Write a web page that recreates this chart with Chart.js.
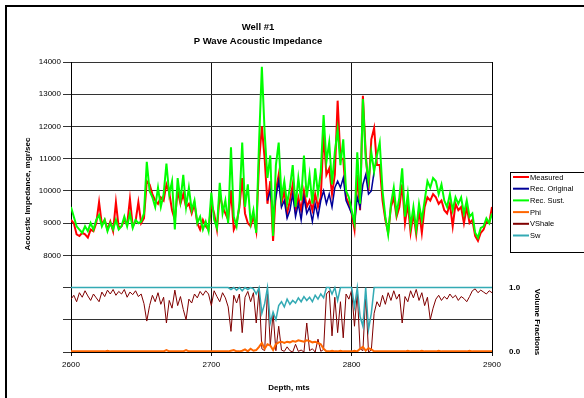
<!DOCTYPE html>
<html>
<head>
<meta charset="utf-8">
<script src="https://cdn.jsdelivr.net/npm/chart.js@4.4.0/dist/chart.umd.min.js"></script>
<style>
  html, body { margin: 0; padding: 0; background: #fff; }
</style>
</head>
<body>
<canvas id="myChart" width="584" height="398"></canvas>
<script>
// depth samples, metres
const depth = [
  2600, 2602, 2604, 2606, 2608, 2610, 2612, 2614, 2616, 2618,
  2620, 2622, 2624, 2626, 2628, 2630, 2632, 2634, 2636, 2638,
  2640, 2642, 2644, 2646, 2648, 2650, 2652, 2654, 2656, 2658,
  2660, 2662, 2664, 2666, 2668, 2670, 2672, 2674, 2676, 2678,
  2680, 2682, 2684, 2686, 2688, 2690, 2692, 2694, 2696, 2698,
  2700, 2702, 2704, 2706, 2708, 2710, 2712, 2714, 2716, 2718,
  2720, 2722, 2724, 2726, 2728, 2730, 2732, 2734, 2736, 2738,
  2740, 2742, 2744, 2746, 2748, 2750, 2752, 2754, 2756, 2758,
  2760, 2762, 2764, 2766, 2768, 2770, 2772, 2774, 2776, 2778,
  2780, 2782, 2784, 2786, 2788, 2790, 2792, 2794, 2796, 2798,
  2800, 2802, 2804, 2806, 2808, 2810, 2812, 2814, 2816, 2818,
  2820, 2822, 2824, 2826, 2828, 2830, 2832, 2834, 2836, 2838,
  2840, 2842, 2844, 2846, 2848, 2850, 2852, 2854, 2856, 2858,
  2860, 2862, 2864, 2866, 2868, 2870, 2872, 2874, 2876, 2878,
  2880, 2882, 2884, 2886, 2888, 2890, 2892, 2894, 2896, 2898,
  2900
];

// acoustic impedance, mgr/sec
const measured = [
  9100, 9000, 8650, 8600, 8700, 8650, 8550, 8800, 8750, 9000,
  9650, 8950, 9100, 8800, 9050, 8750, 9650, 8850, 8900, 9100,
  8950, 9750, 8900, 9050, 9650, 9000, 9150, 10300, 10200, 9900,
  9700, 9600, 9800, 9700, 10200, 9950, 9400, 9100, 10000, 9600,
  9900, 9500, 9600, 9300, 9600, 9000, 8800, 9100, 8900, 8800,
  9600, 9300, 8800, 9900, 9500, 9300, 9100, 10000, 8800, 9000,
  9500, 10400, 9300, 9000, 8900, 9200, 8750, 10900, 12000, 11000,
  9600, 10300, 8450, 10000, 10500, 9600, 10000, 9300, 9700, 10200,
  9400, 9800, 9400, 10000, 9500, 9700, 9400, 9900, 9500, 9800,
  11800, 10500, 10700, 9900, 10500, 12800, 11000, 11000, 9800, 9600,
  9300, 8800, 10500, 9400, 12950, 11200, 10000, 11600, 11950, 10800,
  10800, 9700, 9100, 8700, 9500, 9800, 9200, 9500, 10200, 9000,
  9600, 8700, 9300, 8650, 9400, 8700, 9500, 9800, 9700, 9900,
  9800, 9600, 9700, 9400, 9300, 9600, 8900, 9600, 9400, 9500,
  9000, 9500, 9000, 9100, 8600, 8450, 8700, 8800, 9050, 9000,
  9500
];

const recSust = [
  9500, 9200, 8900, 8800, 8700, 8900, 8750, 9000, 8800, 9100,
  9250, 8900, 9100, 8750, 9000, 8800, 9100, 8800, 8900, 9200,
  8900, 9300, 8850, 9100, 9000, 9050, 9300, 10900, 10000, 9800,
  9500, 10100, 9500, 9900, 10850, 9900, 10300, 8800, 10400, 9700,
  10500, 9500, 10100, 9400, 9700, 9000, 9200, 8800, 9050, 8750,
  9950, 9100, 8850, 10250, 9300, 9700, 9000, 11350, 9200, 8900,
  9600, 11500, 9500, 10200, 9000, 9400, 8700, 11500, 13850, 11800,
  10400, 11100, 8600, 10800, 11500, 9800, 10300, 9600, 10100, 10800,
  9500, 10400, 9700, 11100, 9800, 10500, 9600, 10700, 9900, 10600,
  12350, 10900, 11500, 10200, 11200, 11900, 10800, 11600, 10000, 9800,
  9400, 9000, 11200, 9600, 12850, 11000, 10300, 11200, 10600, 11100,
  11500, 10000, 9200, 8650, 9600, 10100, 9300, 9800, 10700, 9200,
  9900, 8900, 9500, 8800, 9600, 9100, 9700, 10300, 10100, 10400,
  10300, 9900, 10200, 9700, 9500, 9900, 9400, 9800, 9600, 9800,
  9300, 9700, 9200, 9300, 8700, 8550, 8850, 8900, 9150, 9000,
  9300
];

// Rec. Original only departs from the others in the middle interval
const recOrigDepth = [
  2740, 2742, 2744, 2746, 2748, 2750, 2752, 2754, 2756, 2758,
  2760, 2762, 2764, 2766, 2768, 2770, 2772, 2774, 2776, 2778,
  2780, 2782, 2784, 2786, 2788, 2790, 2792, 2794, 2796, 2798,
  2800, 2802, 2804, 2806, 2808, 2810, 2812, 2814, 2816
];
const recOriginal = [
  9700, 10000, 9300, 9800, 10300, 9500, 9700, 9150, 9400, 9900,
  9200, 9600, 9100, 9800, 9300, 9500, 9050, 9600, 9200, 9700,
  10000, 9600, 9900, 9500, 10100, 10300, 10100, 10400, 9700, 9500,
  9300, 9000, 9800, 9500, 10200, 10500, 9900, 10000, 10600
];

// volume fractions
const vshale = [
  0.82, 0.88, 0.78, 0.92, 0.85, 0.95, 0.87, 0.80, 0.90, 0.84,
  0.78, 0.93, 0.86, 0.96, 0.90, 0.97, 0.88, 0.94, 0.90, 0.97,
  0.85, 0.93, 0.89, 0.95, 0.86, 0.90, 0.75, 0.48, 0.72, 0.88,
  0.78, 0.92, 0.74, 0.85, 0.45, 0.80, 0.68, 0.96, 0.72, 0.86,
  0.66, 0.50, 0.82, 0.76, 0.90, 0.84, 0.94, 0.88, 0.95, 0.90,
  0.72, 0.95, 0.86, 0.78, 0.92, 0.84, 0.70, 0.32, 0.88, 0.76,
  0.90, 0.30, 0.85, 0.94, 0.78, 0.92, 0.45, 0.96, 0.05, 0.02,
  0.95, 0.10, 0.60, 0.02, 0.40, 0.03, 0.01, 0.08, 0.02, 0.00,
  0.12, 0.01, 0.03, 0.00, 0.45, 0.02, 0.05, 0.00, 0.20, 0.01,
  0.04, 0.90, 0.95, 0.25, 0.85, 0.30, 0.78, 0.22, 0.90, 0.82,
  0.96, 0.40, 0.92, 0.05, 0.02, 0.88, 0.00, 0.03, 0.60, 0.78,
  0.70, 0.88, 0.74, 0.92, 0.80, 0.95, 0.82, 0.90, 0.45, 0.86,
  0.78, 0.95, 0.84, 0.97, 0.80, 0.92, 0.72, 0.85, 0.50, 0.68,
  0.82, 0.88, 0.80, 0.86, 0.82, 0.90, 0.84, 0.88, 0.80, 0.86,
  0.83, 0.78, 0.86, 0.95, 0.98, 0.92, 0.96, 0.93, 0.90, 0.95,
  0.92
];

const sw = [
  1, 1, 1, 1, 1, 1, 1, 1, 1, 1,
  1, 1, 1, 1, 1, 1, 1, 1, 1, 1,
  1, 1, 1, 1, 1, 1, 1, 1, 1, 1,
  1, 1, 1, 1, 1, 1, 1, 1, 1, 1,
  1, 1, 1, 1, 1, 1, 1, 1, 1, 1,
  1, 1, 1, 1, 1, 1, 1, 0.97, 1, 0.96,
  1, 0.95, 1, 0.97, 1, 0.98, 0.90, 1, 0.60, 0.75,
  1, 0.45, 0.62, 0.50, 0.72, 0.78, 0.70, 0.82, 0.74, 0.80,
  0.76, 0.84, 0.78, 0.86, 0.80, 0.85, 0.78, 0.88, 0.82, 0.90,
  0.84, 1, 1, 0.90, 1, 0.80, 1, 1, 1, 1,
  1, 0.70, 1, 0.55, 0.40, 1, 0.35, 0.60, 1, 1,
  1, 1, 1, 1, 1, 1, 1, 1, 1, 1,
  1, 1, 1, 1, 1, 1, 1, 1, 1, 1,
  1, 1, 1, 1, 1, 1, 1, 1, 1, 1,
  1, 1, 1, 1, 1, 1, 1, 1, 1, 1,
  1
];

const phi = [
  0.01, 0.01, 0.01, 0.01, 0.01, 0.01, 0.01, 0.01, 0.01, 0.01,
  0.01, 0.01, 0.01, 0.02, 0.01, 0.01, 0.01, 0.01, 0.01, 0.01,
  0.01, 0.01, 0.01, 0.01, 0.01, 0.01, 0.01, 0.01, 0.01, 0.01,
  0.01, 0.01, 0.01, 0.01, 0.03, 0.01, 0.01, 0.01, 0.01, 0.01,
  0.01, 0.03, 0.01, 0.01, 0.01, 0.01, 0.01, 0.01, 0.01, 0.01,
  0.01, 0.01, 0.01, 0.01, 0.01, 0.01, 0.01, 0.02, 0.03, 0.01,
  0.01, 0.02, 0.04, 0.01, 0.05, 0.02, 0.03, 0.08, 0.14, 0.05,
  0.12, 0.10, 0.03, 0.12, 0.15, 0.16, 0.14, 0.16, 0.15, 0.17,
  0.16, 0.18, 0.17, 0.16, 0.18, 0.17, 0.15, 0.16, 0.14, 0.12,
  0.05, 0.01, 0.01, 0.02, 0.01, 0.01, 0.02, 0.01, 0.01, 0.01,
  0.01, 0.02, 0.01, 0.05, 0.08, 0.02, 0.06, 0.04, 0.01, 0.01,
  0.01, 0.01, 0.01, 0.01, 0.01, 0.01, 0.01, 0.01, 0.01, 0.01,
  0.02, 0.01, 0.01, 0.01, 0.01, 0.02, 0.01, 0.01, 0.01, 0.01,
  0.01, 0.02, 0.01, 0.01, 0.01, 0.01, 0.01, 0.01, 0.01, 0.01,
  0.01, 0.01, 0.02, 0.01, 0.01, 0.01, 0.01, 0.01, 0.01, 0.01,
  0.01
];

const impTicks = [8000, 9000, 10000, 11000, 12000, 13000, 14000];
const fracTicks = { 0: "0.0", 1: "1.0" };

const FONT = '"Liberation Sans", Arial, sans-serif';

function pts(xs, ys) {
  return xs.map((d, i) => ({ x: d, y: ys[i] }));
}

function line(label, xs, ys, color, width, axis, order) {
  return {
    label: label,
    data: pts(xs, ys),
    borderColor: color,
    backgroundColor: color,
    borderWidth: width,
    pointRadius: 0,
    tension: 0,
    yAxisID: axis,
    order: order,
  };
}

// text, frame and legend around the plot
const decor = {
  id: "decor",
  beforeDraw(chart) {
    const c = chart.ctx;
    c.save();
    c.fillStyle = "#fff";
    c.fillRect(0, 0, chart.width, chart.height);
    c.strokeStyle = "#000";
    c.lineWidth = 2;
    c.strokeRect(6, 6, 700, 700);
    c.restore();
  },
  afterDraw(chart) {
    const c = chart.ctx;
    c.save();
    c.fillStyle = "#000";
    c.textAlign = "center";
    c.textBaseline = "middle";

    c.font = "bold 9.5px " + FONT;
    c.fillText("Well #1", 258, 27);
    c.fillText("P Wave Acoustic Impedance", 258, 41);

    c.font = "bold 8px " + FONT;
    c.fillText("Depth, mts", 289, 388);

    c.save();
    c.translate(28, 194);
    c.rotate(-Math.PI / 2);
    c.fillText("Acoustic Impedance, mgr/sec", 0, 0);
    c.restore();

    c.save();
    c.translate(537, 322);
    c.rotate(Math.PI / 2);
    c.fillText("Volume Fractions", 0, 0);
    c.restore();

    // legend
    c.strokeStyle = "#000";
    c.lineWidth = 1;
    c.strokeRect(510.5, 172.5, 90, 80);
    c.font = "7.5px " + FONT;
    c.textAlign = "left";
    const names = ["Measured", "Rec. Original", "Rec. Sust.", "Phi", "VShale", "Sw"];
    names.forEach((n, i) => {
      const ds = chart.data.datasets.find(d => d.label === n);
      const y = 177 + i * 11.7;
      c.strokeStyle = ds.borderColor;
      c.lineWidth = 2;
      c.beginPath();
      c.moveTo(513, y);
      c.lineTo(529, y);
      c.stroke();
      c.fillStyle = "#000";
      c.fillText(n, 530, y + 0.5);
    });
    c.restore();
  },
};

let wellChart = new Chart(document.getElementById("myChart"), {
  type: "line",
  data: {
    datasets: [
      line("Measured", depth, measured, "#ff0000", 2, "y", 3),
      line("Rec. Original", recOrigDepth, recOriginal, "#000099", 1.5, "y", 2),
      line("Rec. Sust.", depth, recSust, "#00ff00", 2, "y", 1),
      line("Phi", depth, phi, "#ff6600", 2, "y1", 4),
      line("VShale", depth, vshale, "#800000", 1, "y1", 6),
      line("Sw", depth, sw, "#33aab4", 1.5, "y1", 5),
    ],
  },
  options: {
    responsive: false,
    animation: false,
    events: [],
    layout: { padding: { top: 62, left: 0, right: 0, bottom: 0 } },
    plugins: {
      legend: { display: false },
      title: { display: false },
      tooltip: { enabled: false },
    },
    scales: {
      x: {
        type: "linear",
        min: 2600,
        max: 2900,
        ticks: {
          stepSize: 100,
          color: "#000",
          font: { family: FONT, size: 8 },
          padding: 4,
          maxRotation: 0,
          callback: (v) => String(v),
        },
        grid: { color: "#111", tickLength: 4 },
        border: { color: "#000" },
        afterFit: (s) => { s.height = 46; },
      },
      y: {
        position: "left",
        min: 5000,
        max: 14000,
        ticks: {
          stepSize: 1000,
          color: "#000",
          font: { family: FONT, size: 8 },
          padding: 2,
          callback: (v) => (impTicks.includes(v) ? String(v) : ""),
        },
        grid: { color: "#333", tickLength: 8 },
        border: { color: "#000" },
        afterFit: (s) => { s.width = 71; },
      },
      y1: {
        position: "right",
        min: 0,
        max: 4.5,
        ticks: {
          stepSize: 0.5,
          color: "#000",
          font: { family: FONT, size: 8, weight: "bold" },
          padding: 9,
          callback: (v) => (fracTicks[v] !== undefined ? fracTicks[v] : ""),
        },
        grid: { display: false },
        border: { color: "#000" },
        afterFit: (s) => { s.width = 92; },
      },
    },
  },
  plugins: [decor],
});
</script>
</body>
</html>
